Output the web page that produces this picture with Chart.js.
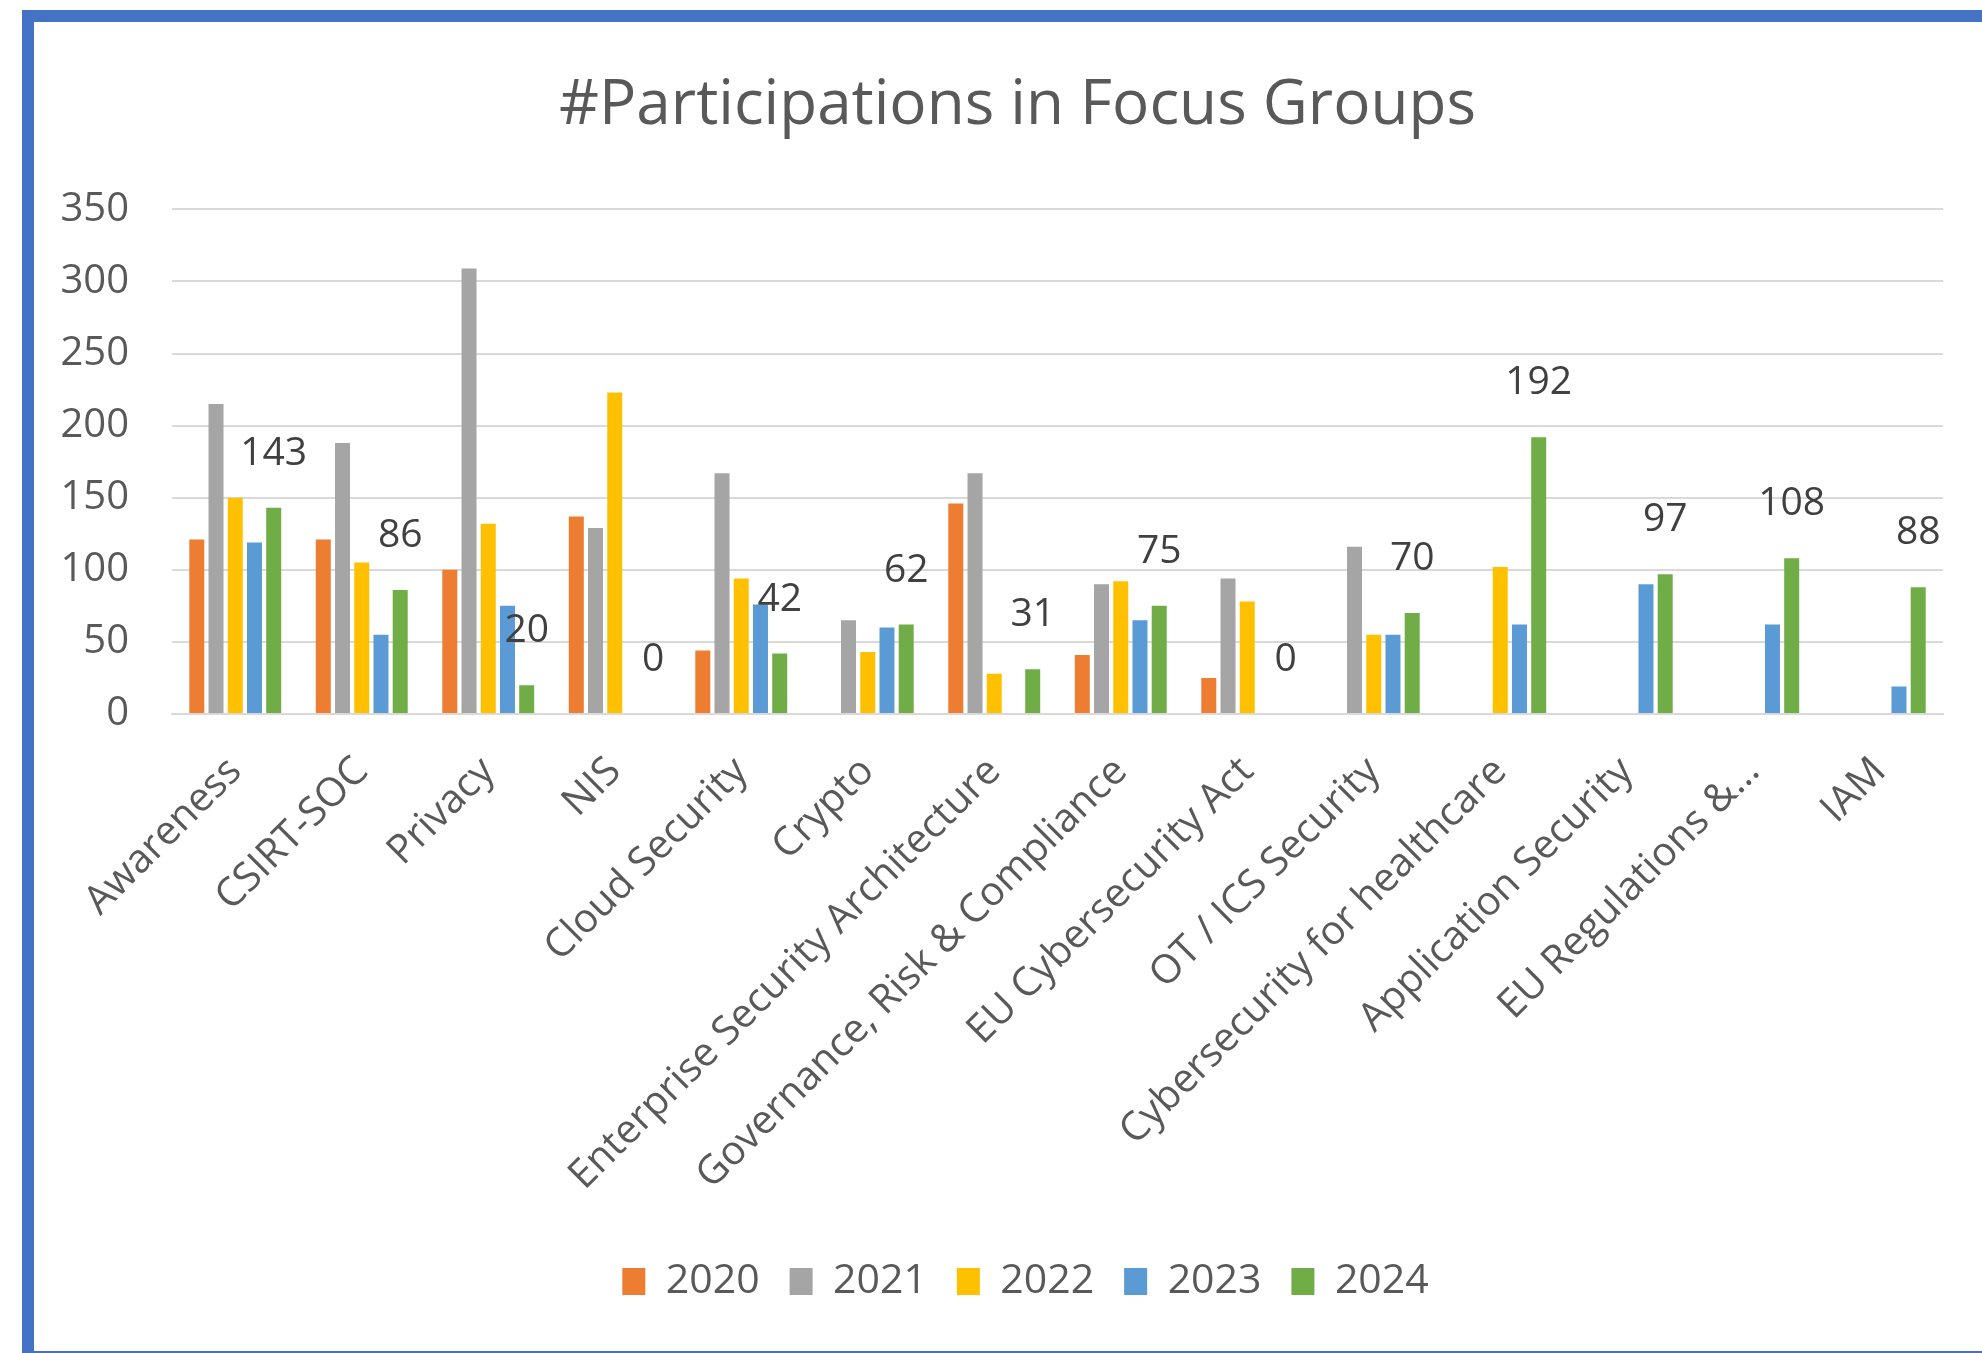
<!DOCTYPE html>
<html>
<head>
<meta charset="utf-8">
<script src="https://cdn.jsdelivr.net/npm/chart.js@4"></script>
<style>
  html, body { margin: 0; padding: 0; background: #fff; overflow: hidden; width: 1982px; height: 1353px; }
  #frame { position: absolute; left: 22px; top: 10px; width: 2100px; height: 1329px; border-top: 12px solid #4472C4; border-left: 12px solid #4472C4; border-bottom: 12px solid #4472C4; }
  #wrap { position: absolute; left: 34px; top: 22px; width: 1972px; height: 1329px; }
</style>
</head>
<body>
<div id="frame"></div>
<div id="wrap"><canvas id="chart-focus"></canvas></div>
<script>
const categories = ['Awareness', 'CSIRT-SOC', 'Privacy', 'NIS', 'Cloud Security', 'Crypto',
  'Enterprise Security Architecture', 'Governance, Risk & Compliance', 'EU Cybersecurity Act',
  'OT / ICS Security', 'Cybersecurity for healthcare', 'Application Security',
  'EU Regulations &\u2026', 'IAM'];

const years = ['2020', '2021', '2022', '2023', '2024'];
const colors = ['#ED7D31', '#A5A5A5', '#FFC000', '#5B9BD5', '#70AD47'];

const values2020 = [121, 121, 100, 137, 44, 0, 146, 41, 25, 0, 0, 0, 0, 0];
const values2021 = [215, 188, 309, 129, 167, 65, 167, 90, 94, 116, 0, 0, 0, 0];
const values2022 = [150, 105, 132, 223, 94, 43, 28, 92, 78, 55, 102, 0, 0, 0];
const values2023 = [119, 55, 75, 0, 76, 60, 0, 65, 0, 55, 62, 90, 62, 19];
const values2024 = [143, 86, 20, 0, 42, 62, 31, 75, 0, 70, 192, 97, 108, 88];

const yTicks = [0, 50, 100, 150, 200, 250, 300, 350];

const allValues = [values2020, values2021, values2022, values2023, values2024];

// labels only on the 2024 series, like the original
const lastYearLabels = {
  id: 'lastYearLabels',
  afterDatasetsDraw(chart) {
    const meta = chart.getDatasetMeta(4);
    const ctx = chart.ctx;
    ctx.save();
    ctx.font = '39px "Open Sans"';
    ctx.fillStyle = '#404040';
    ctx.textAlign = 'center';
    ctx.textBaseline = 'middle';
    meta.data.forEach((bar, i) => {
      ctx.fillText(String(values2024[i]), bar.x, bar.y - 54);
    });
    ctx.restore();
  }
};

// the original chart is cut off on the right, so title and legend sit a bit right of centre
const shiftBlocks = {
  id: 'shiftBlocks',
  afterLayout(chart) {
    if (chart.titleBlock) {
      chart.titleBlock.left += 29;
      chart.titleBlock.right += 29;
    }
    if (chart.legend) {
      chart.legend.left += 37;
      chart.legend.right += 37;
      if (chart.legend.adjustHitBoxes) chart.legend.adjustHitBoxes();
    }
  }
};

const chartFocus = document.getElementById('chart-focus');

new Chart(chartFocus, {
    type: 'bar',
    data: {
      labels: categories,
      datasets: years.map((y, i) => ({
        label: y,
        data: allValues[i],
        backgroundColor: colors[i],
        borderWidth: 0,
        categoryPercentage: 0.76,
        barPercentage: 0.78
      }))
    },
    options: {
      responsive: true,
      maintainAspectRatio: false,
      animation: false,
      layout: { padding: { left: 0, right: 63, top: 0, bottom: 39 } },
      plugins: {
        title: {
          display: true,
          text: '#Participations in Focus Groups',
          color: '#595959',
          font: { family: 'Open Sans', size: 62, weight: 'normal' },
          padding: { top: 47, bottom: 66 }
        },
        legend: {
          position: 'bottom',
          labels: {
            color: '#595959',
            font: { family: 'Open Sans', size: 41 },
            boxWidth: 23,
            boxHeight: 27,
            padding: 30
          }
        },
        tooltip: { enabled: false }
      },
      scales: {
        y: {
          min: 0,
          max: 350,
          afterBuildTicks: (scale) => { scale.ticks = yTicks.map(v => ({ value: v })); },
          afterFit: (scale) => { scale.width = 138; },
          border: { display: false },
          grid: { color: '#D9D9D9', lineWidth: 2, drawTicks: false },
          ticks: {
            color: '#595959',
            font: { family: 'Open Sans', size: 40 },
            padding: 43
          }
        },
        x: {
          afterFit: (scale) => { scale.height = 517; },
          border: { display: true, color: '#D9D9D9', width: 2 },
          grid: { display: false },
          ticks: {
            color: '#595959',
            font: { family: 'Open Sans', size: 40 },
            minRotation: 45,
            maxRotation: 45,
            autoSkip: false,
            padding: 26
          }
        }
      }
    },
    plugins: [lastYearLabels, shiftBlocks]
});
</script>
</body>
</html>
